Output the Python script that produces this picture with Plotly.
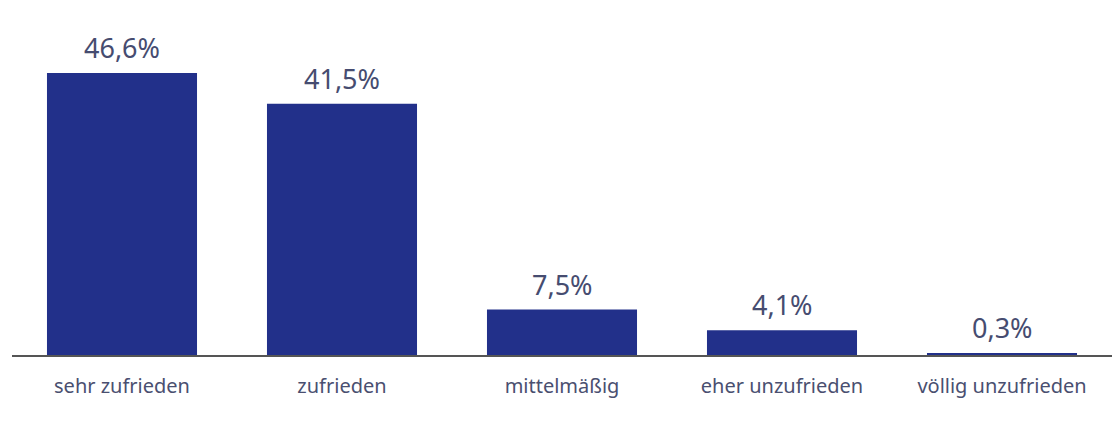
import plotly.graph_objects as go

categories = ["sehr zufrieden", "zufrieden", "mittelmäßig", "eher unzufrieden", "völlig unzufrieden"]
values = [46.6, 41.5, 7.5, 4.1, 0.3]

bar_color = "#22308a"
text_color = "#464c70"

fig = go.Figure(go.Bar(
    x=categories, y=values,
    marker=dict(color=bar_color, line=dict(width=0)),
    hoverinfo="skip",
))

for c, v in zip(categories, values):
    fig.add_annotation(
        x=c, y=v, text=f"{v:.1f}".replace(".", ",") + "%",
        showarrow=False, yanchor="bottom", yshift=5,
        font=dict(family="Noto Sans, sans-serif", size=27, color=text_color),
    )

fig.update_layout(
    width=1117, height=423,
    margin=dict(l=12, r=5, t=10, b=68),
    paper_bgcolor="white", plot_bgcolor="white",
    bargap=0.318,
    showlegend=False,
    xaxis=dict(
        showline=True, linecolor="#555555", linewidth=1.5,
        showgrid=False, ticks="", ticklabelstandoff=12,
        tickfont=dict(family="Noto Sans, sans-serif", size=20, color="#4a4f70"),
        fixedrange=True,
    ),
    yaxis=dict(range=[0, 57], visible=False, showgrid=False, fixedrange=True),
)

fig.write_html("out.html")
